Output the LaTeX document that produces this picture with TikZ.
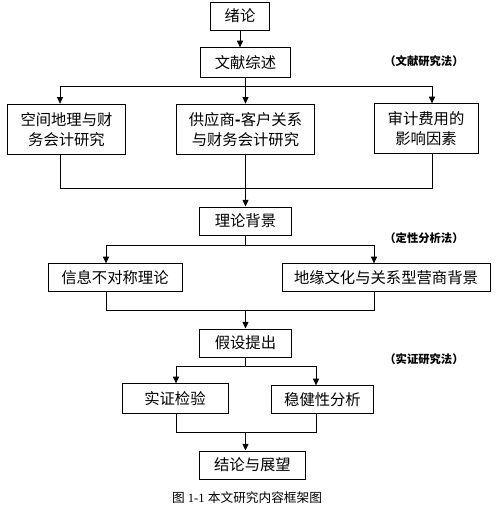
\documentclass[tikz,border=0pt]{standalone}
\usepackage{fontspec}
\setmainfont{Liberation Serif}
\newfontfamily\cjk{Noto Sans CJK SC}
\usetikzlibrary{arrows.meta}

\begin{document}
\begin{tikzpicture}[x=0.75pt,y=-0.75pt,line width=0.7pt,
    box/.style={draw,inner sep=0pt,align=center,font=\cjk\fontsize{11.5}{15}\selectfont},
    note/.style={font=\cjk\bfseries\fontsize{8.5}{10}\selectfont},
    arr/.style={-{Triangle[length=5pt,width=4.5pt]}}]
  \useasboundingbox (0,0) rectangle (504,512);
  % boxes
  \node[box,minimum width=44pt,minimum height=21pt] (intro) at (240,16) {绪论};
  \node[box,minimum width=68pt,minimum height=22pt] (lit) at (245.5,62.5) {文献综述};
  \node[box,minimum width=88pt,minimum height=38pt] (b1) at (66.5,129.5) {空间地理与财\\务会计研究};
  \node[box,minimum width=104pt,minimum height=38pt] (b2) at (245.5,129.5) {供应商\textbf{-}客户关系\\与财务会计研究};
  \node[box,minimum width=78pt,minimum height=37pt] (b3) at (426,128.5) {审计费用的\\影响因素};
  \node[box,minimum width=69pt,minimum height=21pt] (theory) at (245.5,221) {理论背景};
  \node[box,minimum width=100.5pt,minimum height=20.5pt] (t1) at (115,277.5) {信息不对称理论};
  \node[box,minimum width=156pt,minimum height=20.5pt] (t2) at (386,277.5) {地缘文化与关系型营商背景};
  \node[box,minimum width=69pt,minimum height=21pt] (hyp) at (245.5,343) {假设提出};
  \node[box,minimum width=79.5pt,minimum height=22pt] (e1) at (175,398.5) {实证检验};
  \node[box,minimum width=77pt,minimum height=20.5pt] (e2) at (322.5,399.5) {稳健性分析};
  \node[box,minimum width=79pt,minimum height=21pt] (concl) at (252.5,465) {结论与展望};
  % notes
  \node[note] (n1) at (424,61) {（文献研究法）};
  \node[note] (n2) at (424,238) {（定性分析法）};
  \node[note] (n3) at (424,359) {（实证研究法）};
  \node[font=\fontsize{9.5}{11}\selectfont] (cap) at (247,498) {{\cjk 图} 1-1 {\cjk 本文研究内容框架图}};
  % bus points
  \coordinate (a1l) at (60,86);
  \coordinate (a1r) at (432,86);
  \coordinate (m1l) at (60,188);
  \coordinate (m1r) at (432,188);
  \coordinate (a2l) at (106,245);
  \coordinate (a2r) at (374,245);
  \coordinate (m2l) at (106,310);
  \coordinate (m2r) at (374,310);
  \coordinate (a3l) at (176,366);
  \coordinate (a3r) at (316,366);
  \coordinate (m3l) at (176,432);
  \coordinate (m3r) at (316,432);
  \coordinate (m3c) at (245.5,432);
  % connectors
  \draw[arr] (intro.south) -- (intro.south |- lit.north);
  \draw (a1l) -- (a1r);
  \draw[arr] (lit) -- (b2);
  \draw[arr] (a1l) -- (a1l |- b1.north);
  \draw[arr] (a1r) -- (a1r |- b3.north);
  \draw (b1.south -| m1l) -- (m1l) -- (m1r) -- (b3.south -| m1r);
  \draw[arr] (b2) -- (theory);
  \draw (theory.south) -- (theory.south |- a2l);
  \draw (a2l) -- (a2r);
  \draw[arr] (a2l) -- (a2l |- t1.north);
  \draw[arr] (a2r) -- (a2r |- t2.north);
  \draw (t1.south -| m2l) -- (m2l) -- (m2r) -- (t2.south -| m2r);
  \draw[arr] (m2l -| hyp) -- (hyp);
  \draw (hyp.south) -- (hyp.south |- a3l);
  \draw (a3l) -- (a3r);
  \draw[arr] (a3l) -- (a3l |- e1.north);
  \draw[arr] (a3r) -- (a3r |- e2.north);
  \draw (e1.south -| m3l) -- (m3l) -- (m3r) -- (e2.south -| m3r);
  \draw[arr] (m3c) -- (m3c |- concl.north);
\end{tikzpicture}
\end{document}
